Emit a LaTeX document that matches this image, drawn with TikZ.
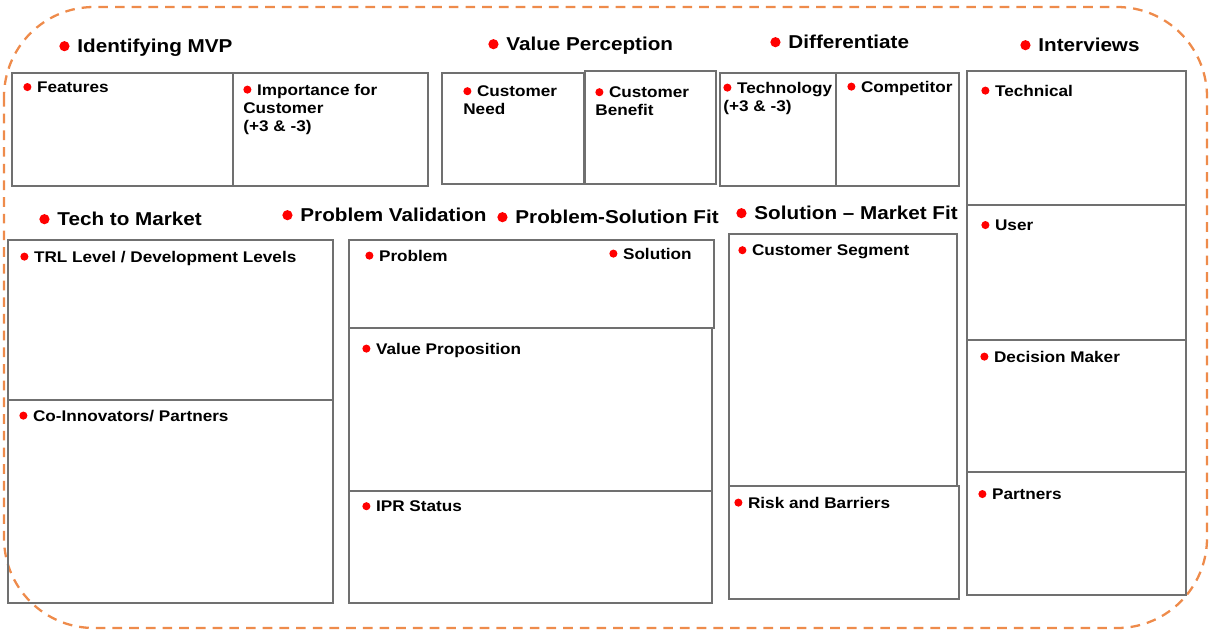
\documentclass[tikz,border=0pt]{standalone}
\usepackage{fontspec}
\setmainfont[FakeStretch=1.11]{Liberation Sans}
\usepackage{xcolor}
\usepackage{tikz}
\definecolor{frame}{HTML}{EE8B4B}
\definecolor{edge}{HTML}{707070}
\definecolor{dot}{HTML}{FF0000}
\newcommand{\rdot}[2]{\tikz[baseline=-#2]\fill[dot] (0,0) circle (#1);}
\newcommand{\hbul}{\rdot{2.9pt}{3.8pt}\hspace{4.5pt}}
\newcommand{\lbul}{\rdot{2.3pt}{3.1pt}\hspace{3.2pt}}
\tikzset{
  frameLine/.style={draw=frame, line width=1.3pt, dash pattern=on 5.5pt off 4pt, rounded corners=1.8cm},
  panel/.style={draw=edge, line width=0.8pt},
  headLabel/.style={anchor=north west, inner sep=0pt, font=\fontsize{10.6}{12}\selectfont\bfseries},
  boxLabel/.style={anchor=north west, inner sep=0pt, align=left, font=\fontsize{8.8}{10.3}\selectfont\bfseries}
}

\begin{document}
\begin{tikzpicture}[x=0.02cm, y=-0.02cm]
  \useasboundingbox (0,0) rectangle (1213,630);
  \draw[frameLine] (4,7) rectangle (1207,628);

  \draw[panel] (12,73) rectangle (233,186);
  \draw[panel] (233,73) rectangle (428,186);
  \draw[panel] (442,73) rectangle (584,184);
  \draw[panel] (585,71) rectangle (716,184);
  \draw[panel] (720,73) rectangle (836,186);
  \draw[panel] (836,73) rectangle (959,186);

  \draw[panel] (967,71) rectangle (1186,205);
  \draw[panel] (967,205) rectangle (1186,340);
  \draw[panel] (967,340) rectangle (1186,472);
  \draw[panel] (967,472) rectangle (1186,595);

  \draw[panel] (8,240) rectangle (333,400);
  \draw[panel] (8,400) rectangle (333,603);

  \draw[panel] (349,240) rectangle (714,328);
  \draw[panel] (349,328) rectangle (712,491);
  \draw[panel] (349,491) rectangle (712,603);

  \draw[panel] (729,234) rectangle (957,486);
  \draw[panel] (729,486) rectangle (959,599);

  \node[headLabel] (hMVP) at (59,39) {\hbul Identifying MVP};
  \node[headLabel] (hValue) at (488,37) {\hbul Value Perception};
  \node[headLabel] (hDiff) at (770,35) {\hbul Differentiate};
  \node[headLabel] (hInter) at (1020,38) {\hbul Interviews};
  \node[headLabel] (hTech) at (39,212) {\hbul Tech to Market};
  \node[headLabel] (hProbVal) at (282,208) {\hbul Problem Validation};
  \node[headLabel] (hPSFit) at (497,210) {\hbul Problem-Solution Fit};
  \node[headLabel] (hSMFit) at (736,206) {\hbul Solution -- Market Fit};

  \node[boxLabel] (features) at (23,81.5) {\lbul Features};
  \node[boxLabel] (importance) at (243,83.5) {\lbul Importance for\\Customer\\(+3 \& -3)};
  \node[boxLabel] (need) at (463,85.5) {\lbul Customer\\Need};
  \node[boxLabel] (benefit) at (595,86.5) {\lbul Customer\\Benefit};
  \node[boxLabel] (technology) at (723,81.5) {\lbul Technology\\(+3 \& -3)};
  \node[boxLabel] (competitor) at (847,80.5) {\lbul Competitor};

  \node[boxLabel] (technical) at (981,84.5) {\lbul Technical};
  \node[boxLabel] (user) at (981,219.5) {\lbul User};
  \node[boxLabel] (decision) at (980,350.5) {\lbul Decision Maker};
  \node[boxLabel] (partners) at (978,488.5) {\lbul Partners};

  \node[boxLabel] (trl) at (20,250.5) {\lbul TRL Level / Development Levels};
  \node[boxLabel] (coinnov) at (19,409.5) {\lbul Co-Innovators/ Partners};

  \node[boxLabel] (problem) at (365,249.5) {\lbul Problem};
  \node[boxLabel] (solution) at (609,247.5) {\lbul Solution};
  \node[boxLabel] (valueprop) at (362,342.5) {\lbul Value Proposition};
  \node[boxLabel] (ipr) at (362,500.5) {\lbul IPR Status};

  \node[boxLabel] (segment) at (738,244.5) {\lbul Customer Segment};
  \node[boxLabel] (risk) at (734,496.5) {\lbul Risk and Barriers};
\end{tikzpicture}
\end{document}
